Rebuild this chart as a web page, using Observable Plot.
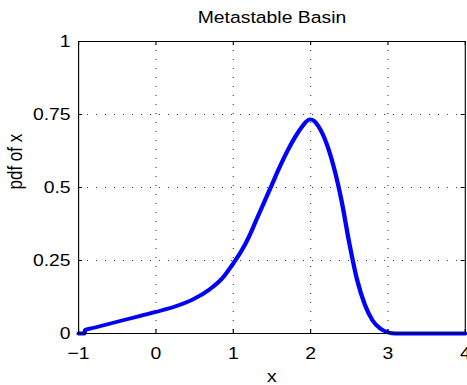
<!DOCTYPE html>
<html>
<head>
<meta charset="utf-8">
<script src="https://cdn.jsdelivr.net/npm/d3@7"></script>
<script src="https://cdn.jsdelivr.net/npm/@observablehq/plot@0.6"></script>
<style>
  html, body { margin: 0; padding: 0; background: #fff; }
  #chart svg { display: block; }
</style>
</head>
<body>
<div id="chart"></div>
<script>
const titleText = "Metastable Basin";
const xLabel = "x";
const yLabel = "pdf of x";
const xTicks = [-1, 0, 1, 2, 3, 4];
const yTicks = [0, 0.25, 0.5, 0.75, 1];
const xs  = [-1, -0.925, -0.915, -0.8, -0.6, -0.4, -0.2, 0, 0.256, 0.473, 0.688, 0.861, 1.0, 1.1, 1.2, 1.3, 1.4, 1.5, 1.6, 1.7, 1.8, 1.9, 1.95, 1.99, 2.05, 2.1, 2.2, 2.3, 2.4, 2.5, 2.6, 2.7, 2.8, 2.9, 3.0, 3.1, 4];
const pdf = [0, 0, 0.012, 0.0198, 0.0334, 0.047, 0.0606, 0.074, 0.093, 0.116, 0.15, 0.19, 0.24, 0.28, 0.33, 0.39, 0.45, 0.51, 0.57, 0.625, 0.673, 0.712, 0.727, 0.733, 0.727, 0.71, 0.655, 0.57, 0.455, 0.31, 0.185, 0.1, 0.045, 0.017, 0.004, 0, 0];

const data = xs.map((x, i) => ({x, y: pdf[i]}));

const W = 410, H = 385;          // drawn width, later stretched horizontally to 467
const mL = 68.5, mR = 2, mT = 41, mB = 52;
const plotW = W - mL - mR, plotH = H - mT - mB;
const tickLen = 4;
const fmtX = d => d < 0 ? "\u2212" + Math.abs(d) : String(d);

const chart = Plot.plot({
  width: W, height: H,
  marginLeft: mL, marginRight: mR, marginTop: mT, marginBottom: mB,
  x: {domain: [-1, 4]},
  y: {domain: [0, 1]},
  style: {fontFamily: "'Liberation Sans', Arial, Helvetica, sans-serif", fontSize: "17px", background: "white", color: "black", overflow: "visible"},
  marks: [
    Plot.ruleX(xTicks.slice(1, -1), {stroke: "#000", strokeOpacity: 0.75, strokeDasharray: "1,8"}),
    Plot.ruleY(yTicks.slice(1, -1), {stroke: "#000", strokeOpacity: 0.75, strokeDasharray: "0.9,7"}),
    Plot.line(data, {x: "x", y: "y", stroke: "#0000ff", strokeWidth: 3.8, curve: "monotone-x"}),
    Plot.ruleX(xTicks, {stroke: "#000", insetTop: plotH - tickLen}),
    Plot.ruleX(xTicks, {stroke: "#000", insetBottom: plotH - tickLen}),
    Plot.ruleY(yTicks, {stroke: "#000", insetRight: plotW - tickLen * 0.88}),
    Plot.ruleY(yTicks, {stroke: "#000", insetLeft: plotW - tickLen * 0.88}),
    Plot.frame({stroke: "#000"}),
    Plot.axisX({ticks: xTicks, tickSize: 0, tickPadding: 13, tickFormat: fmtX, fontSize: 17, label: null}),
    Plot.axisY({ticks: yTicks, tickSize: 0, tickPadding: 7, tickFormat: d => String(d), fontSize: 17, label: null}),
    Plot.text([titleText], {text: d => d, frameAnchor: "top", lineAnchor: "bottom", dy: -19, fontSize: 17}),
    Plot.text([xLabel], {text: d => d, frameAnchor: "bottom", lineAnchor: "bottom", dy: 48, fontSize: 17}),
    Plot.text([yLabel], {text: d => d, frameAnchor: "left", rotate: -90, dx: -55.3, dy: 2, fontSize: 17})
  ]
});

chart.setAttribute("width", 467);
chart.setAttribute("height", 385);
chart.setAttribute("preserveAspectRatio", "none");
chart.style.width = "467px";
chart.style.height = "385px";
chart.style.maxWidth = "none";
document.getElementById("chart").appendChild(chart);
</script>
</body>
</html>
